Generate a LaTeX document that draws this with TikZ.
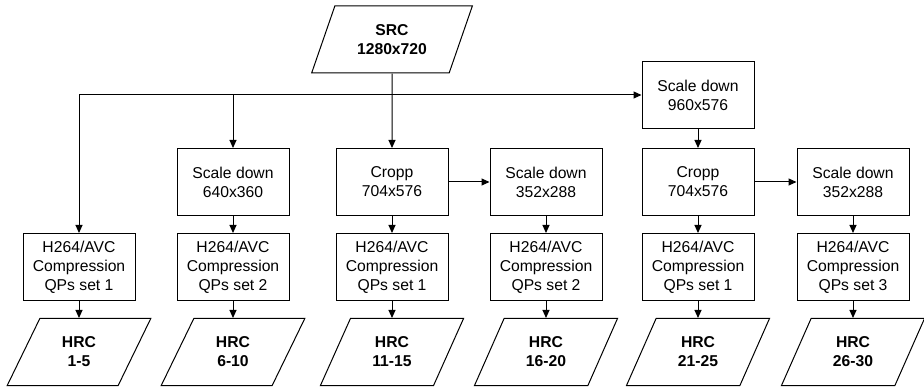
\documentclass[tikz,border=0pt]{standalone}
\usepackage{fontspec}
\setmainfont{Liberation Sans}
\usetikzlibrary{shapes.geometric,arrows.meta}
\begin{document}
\begin{tikzpicture}[x=1pt,y=-1pt,
  every node/.style={font=\fontsize{15.7}{19}\selectfont, align=center, inner sep=0pt},
  procbox/.style={draw, line width=1pt, minimum width=112pt, minimum height=67pt},
  databox/.style={draw, line width=1pt, trapezium, trapezium left angle=64.8, trapezium right angle=115.2,
     trapezium stretches=true, minimum height=67pt, font=\fontsize{15.7}{19}\selectfont\bfseries},
  arr/.style={line width=1pt, -{Triangle[length=8pt,width=7pt]}},
  ln/.style={line width=1pt}]
\useasboundingbox (0,0) rectangle (924,387);
% source
\node[databox, minimum width=162pt] (src) at (392,39.5) {SRC\\1280x720};
% top row
\node[procbox] (s960) at (698,95.5) {Scale down\\960x576};
% middle row
\node[procbox] (s640) at (233,182) {Scale down\\640x360};
\node[procbox] (c1) at (392,182) {Cropp\\704x576};
\node[procbox] (s352a) at (546,182) {Scale down\\352x288};
\node[procbox] (c2) at (698,182) {Cropp\\704x576};
\node[procbox] (s352b) at (853,182) {Scale down\\352x288};
% compression row
\node[procbox] (h1) at (79,267) {H264/AVC\\Compression\\QPs set 1};
\node[procbox] (h2) at (233,267) {H264/AVC\\Compression\\QPs set 2};
\node[procbox] (h3) at (392,267) {H264/AVC\\Compression\\QPs set 1};
\node[procbox] (h4) at (546,267) {H264/AVC\\Compression\\QPs set 2};
\node[procbox] (h5) at (698,267) {H264/AVC\\Compression\\QPs set 1};
\node[procbox] (h6) at (853,267) {H264/AVC\\Compression\\QPs set 3};
% outputs
\node[databox, minimum width=144pt] (o1) at (79,352) {HRC\\1-5};
\node[databox, minimum width=144pt] (o2) at (233,352) {HRC\\6-10};
\node[databox, minimum width=144pt] (o3) at (392,352) {HRC\\11-15};
\node[databox, minimum width=144pt] (o4) at (546,352) {HRC\\16-20};
\node[databox, minimum width=144pt] (o5) at (698,352) {HRC\\21-25};
\node[databox, minimum width=144pt] (o6) at (853,352) {HRC\\26-30};
% connectors
\coordinate (j) at (392,95);
\draw[arr] (src.south) -- (c1.north);
\draw[arr] (j) -| (h1.north);
\draw[arr] (j) -- (s960.west |- j);
\draw[arr] (s640.north |- j) -- (s640.north);
\draw[arr] (s960) -- (c2);
\draw[arr] (c1) -- (s352a);
\draw[arr] (c2) -- (s352b);
\foreach \a/\b in {s640/h2,c1/h3,s352a/h4,c2/h5,s352b/h6}
  \draw[arr] (\a) -- (\b);
\foreach \i in {1,...,6}
  \draw[arr] (h\i.south) -- (h\i.south |- o\i.north);
\end{tikzpicture}
\end{document}
